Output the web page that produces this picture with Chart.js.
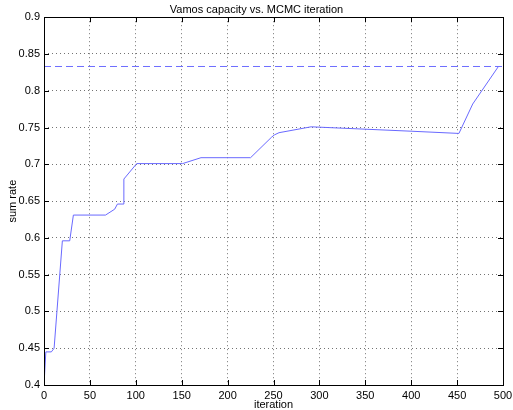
<!DOCTYPE html>
<html>
<head>
<meta charset="utf-8">
<script src="https://cdn.jsdelivr.net/npm/chart.js@4"></script>
<style>
  html, body { margin: 0; padding: 0; background: #fff; }
</style>
</head>
<body>
<canvas id="capChart" width="513" height="410"></canvas>
<script>
// MCMC iteration vs sum rate
var iterations = [0, 2, 8, 11, 20, 28, 32, 67, 77, 80, 87, 87, 101, 151, 171, 225, 248, 251, 256, 291, 400, 452, 467, 495];
var sumRate = [0.4, 0.445, 0.445, 0.45, 0.596, 0.596, 0.631, 0.631, 0.639, 0.646, 0.646, 0.68, 0.701, 0.701, 0.709, 0.709, 0.737, 0.74, 0.743, 0.751, 0.745, 0.742, 0.782, 0.833];
var capacityX = [0, 500];
var capacity = [0.833, 0.833];
var xTicks = [0, 50, 100, 150, 200, 250, 300, 350, 400, 450, 500];
var yTicks = [0.4, 0.45, 0.5, 0.55, 0.6, 0.65, 0.7, 0.75, 0.8, 0.85, 0.9];

function pairs(xs, ys) {
    return xs.map(function (x, i) { return { x: x, y: ys[i] }; });
}

// box round the axes with inward tick marks, like matlab
var frame = {
    id: 'frame',
    afterDraw: function (chart) {
        var c = chart.ctx, a = chart.chartArea;
        var sx = chart.scales.x, sy = chart.scales.y;
        var len = 5;
        c.save();
        c.strokeStyle = '#000';
        c.lineWidth = 1;
        c.beginPath();
        xTicks.forEach(function (v) {
            var px = Math.round(sx.getPixelForValue(v)) + 0.5;
            c.moveTo(px, a.bottom); c.lineTo(px, a.bottom - len);
            c.moveTo(px, a.top); c.lineTo(px, a.top + len);
        });
        yTicks.forEach(function (v) {
            var py = Math.round(sy.getPixelForValue(v)) + 0.5;
            c.moveTo(a.left, py); c.lineTo(a.left + len, py);
            c.moveTo(a.right, py); c.lineTo(a.right - len, py);
        });
        c.stroke();
        c.strokeRect(Math.round(a.left) + 0.5, Math.round(a.top) + 0.5,
            Math.round(a.right - a.left), Math.round(a.bottom - a.top));
        c.restore();
    }
};

var font = { family: "'Liberation Sans', Arial, sans-serif", size: 11 };
var gridStyle = {
    color: 'rgba(0,0,0,0.55)',
    drawTicks: false
};

var ctx = document.getElementById('capChart').getContext('2d');
var capChart = new Chart(ctx, {
    type: 'line',
    data: {
        datasets: [{
            data: pairs(iterations, sumRate),
            borderColor: 'rgb(105,105,255)',
            borderWidth: 1,
            pointRadius: 0,
            tension: 0
        }, {
            data: pairs(capacityX, capacity),
            borderColor: 'rgb(110,110,255)',
            borderWidth: 1,
            borderDash: [7, 4],
            pointRadius: 0
        }]
    },
    options: {
        responsive: false,
        animation: false,
        layout: { padding: { top: 0, right: 0, bottom: 0, left: 0 } },
        plugins: {
            legend: { display: false },
            tooltip: { enabled: false },
            title: {
                display: true,
                text: 'Vamos capacity vs. MCMC iteration',
                color: '#000',
                font: { family: font.family, size: 11, weight: 'normal', lineHeight: 1.2 },
                padding: { top: 3, bottom: 1 }
            }
        },
        scales: {
            x: {
                type: 'linear',
                min: 0,
                max: 500,
                grid: gridStyle,
                border: { display: false, dash: [1, 3] },
                ticks: { stepSize: 50, color: '#000', font: font, padding: 4, maxRotation: 0 },
                title: {
                    display: true,
                    text: 'iteration',
                    color: '#000',
                    font: { family: font.family, size: 11, lineHeight: 1 },
                    padding: { top: 0, bottom: 0 }
                },
                afterFit: function (s) { s.height = 25; s.paddingRight = 10; }
            },
            y: {
                type: 'linear',
                min: 0.4,
                max: 0.9,
                grid: gridStyle,
                border: { display: false, dash: [1, 3] },
                ticks: {
                    stepSize: 0.05,
                    color: '#000',
                    font: font,
                    padding: 4,
                    callback: function (v) { return String(+v.toFixed(2)); }
                },
                title: {
                    display: true,
                    text: 'sum rate',
                    color: '#000',
                    font: { family: font.family, size: 11, lineHeight: 1 },
                    padding: { top: 7, bottom: 0 }
                },
                afterFit: function (s) { s.width = 44; }
            }
        }
    },
    plugins: [frame]
});
</script>
</body>
</html>
